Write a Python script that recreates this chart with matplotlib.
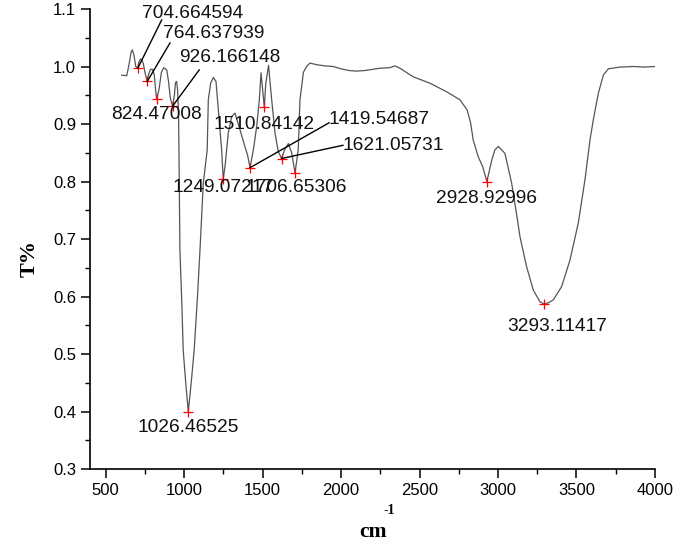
import matplotlib
matplotlib.use('Agg')
import matplotlib.pyplot as plt
from matplotlib.ticker import MultipleLocator

# 光谱曲线 (波数 cm-1, 透过率)
wavenumber = [602, 634, 650, 662, 670, 680, 692, 704.664594, 712, 722, 730, 740, 750,
              764.637939, 772, 785, 799, 810, 818, 824.47008, 840, 855, 870, 889, 900,
              912, 926.166148, 938, 945, 952, 958, 964, 967, 970, 973, 985, 994, 1010,
              1026.46525, 1045, 1064, 1085, 1101, 1122, 1147, 1154, 1169, 1186, 1203,
              1218, 1239, 1249.07217, 1262, 1281, 1303, 1324, 1356, 1388, 1405,
              1419.54687, 1441, 1462, 1479, 1490, 1500, 1510.84142, 1520, 1538, 1555,
              1579, 1600, 1621.05731, 1640, 1664, 1685, 1706.65306, 1727, 1738, 1760,
              1780, 1802, 1846, 1900, 1950, 2000, 2050, 2099, 2150, 2200, 2248, 2310,
              2343, 2375, 2460, 2566, 2673, 2758, 2804, 2826, 2842, 2874, 2902,
              2928.92996, 2960, 2980, 3002, 3044, 3087, 3120, 3140, 3182,
              3225, 3267, 3293.11417, 3320, 3352, 3405, 3458, 3511, 3554, 3586, 3607,
              3639, 3671, 3703, 3777, 3862, 3930, 4000]
transmittance = [0.985, 0.984, 1.005, 1.025, 1.029, 1.020, 1.000, 0.997, 1.008, 1.013, 1.012,
                 1.005, 0.990, 0.974, 0.985, 0.995, 0.995, 0.985, 0.960, 0.943, 0.960, 0.990,
                 0.998, 0.994, 0.975, 0.945, 0.931, 0.950, 0.972, 0.974, 0.960, 0.920, 0.855,
                 0.760, 0.681, 0.590, 0.507, 0.450, 0.400, 0.450, 0.507, 0.600, 0.681, 0.797,
                 0.855, 0.942, 0.971, 0.981, 0.974, 0.924, 0.855, 0.804, 0.830, 0.884, 0.913,
                 0.919, 0.890, 0.860, 0.845, 0.824, 0.855, 0.895, 0.942, 0.989, 0.960, 0.929,
                 0.970, 1.002, 0.950, 0.884, 0.852, 0.840, 0.855, 0.866, 0.850, 0.815, 0.855,
                 0.942, 0.990, 1.000, 1.006, 1.003, 1.001, 1.000, 0.996, 0.993, 0.992, 0.993,
                 0.995, 0.997, 0.998, 1.001, 0.997, 0.982, 0.971, 0.956, 0.942, 0.924, 0.901,
                 0.872, 0.843, 0.826, 0.800, 0.837, 0.855, 0.861, 0.849, 0.797, 0.740,
                 0.704, 0.652, 0.611, 0.591, 0.587, 0.589, 0.594, 0.617, 0.663,
                 0.727, 0.803, 0.872, 0.907, 0.953, 0.985, 0.996, 0.999, 1.000, 0.999, 1.000]

# 标注的峰
peak_x = [704.664594, 764.637939, 824.47008, 926.166148, 1026.46525, 1249.07217,
          1419.54687, 1510.84142, 1621.05731, 1706.65306, 2928.92996, 3293.11417]
peak_y = [0.997, 0.974, 0.943, 0.931, 0.400, 0.804, 0.824, 0.929, 0.840, 0.815, 0.800, 0.587]
peak_labels = ['704.664594', '764.637939', '824.47008', '926.166148', '1026.46525',
               '1249.07217', '1419.54687', '1510.84142', '1621.05731', '1706.65306',
               '2928.92996', '3293.11417']

# 标签位置 (x, y, 对齐方式, 引线终点或None)
label_pos = [
    (1056, 1.093, 'center', (857, 1.081)),
    (1190, 1.058, 'center', (910, 1.041)),
    (825, 0.916, 'center', None),
    (1292, 1.015, 'center', (1096, 0.994)),
    (1024, 0.373, 'center', None),
    (1247, 0.790, 'center', None),
    (1917, 0.907, 'left', (1923, 0.902)),
    (1509, 0.900, 'center', None),
    (2012, 0.863, 'left', (2012, 0.863)),
    (1713, 0.789, 'center', None),
    (2928, 0.771, 'center', None),
    (3379, 0.547, 'center', None),
]

plt.rcParams['font.family'] = ['Liberation Sans', 'DejaVu Sans']

fig = plt.figure(figsize=(6.75, 5.49), dpi=100)
ax = fig.add_axes([0.1333, 0.1457, 0.8370, 0.8379])

ax.plot(wavenumber, transmittance, color='#555555', lw=0.9)
ax.plot(peak_x, peak_y, '+', color='red', markersize=7, mew=0.9)

for (lx, ly, ha, lead), px, py, txt in zip(label_pos, peak_x, peak_y, peak_labels):
    if lead is not None:
        ax.plot([px, lead[0]], [py, lead[1]], color='black', lw=1.0)
    ax.text(lx, ly, txt, ha=ha, va='center', fontsize=13.8, color='#111111')

ax.set_xlim(400, 4000)
ax.set_ylim(0.3, 1.1)
ax.xaxis.set_minor_locator(MultipleLocator(250))
ax.yaxis.set_minor_locator(MultipleLocator(0.05))
ax.set_xticks(range(500, 4001, 500))
ax.set_yticks([0.3, 0.4, 0.5, 0.6, 0.7, 0.8, 0.9, 1.0, 1.1])
ax.set_yticklabels(['0.3', '0.4', '0.5', '0.6', '0.7', '0.8', '0.9', '1.0', '1.1'])

ax.spines['top'].set_visible(False)
ax.spines['right'].set_visible(False)
ax.spines['left'].set_linewidth(1.2)
ax.spines['bottom'].set_linewidth(1.2)
ax.tick_params(which='major', direction='out', length=6.5, width=1.1, labelsize=12, pad=3.5)
ax.tick_params(which='minor', direction='out', length=3.5, width=1.0)

# 坐标轴标题
fig.text(0.044, 0.53, 'T%', rotation=90, ha='center', va='center',
         fontsize=16, fontweight='bold', family='Liberation Serif')
fig.text(0.553, 0.022, 'cm', ha='center', va='baseline',
         fontsize=15.5, fontweight='bold', family='Liberation Serif')
fig.text(0.568, 0.064, '-1', ha='left', va='baseline',
         fontsize=10, fontweight='bold', family='Liberation Serif')

plt.savefig('out.png', dpi=100)
plt.close()
